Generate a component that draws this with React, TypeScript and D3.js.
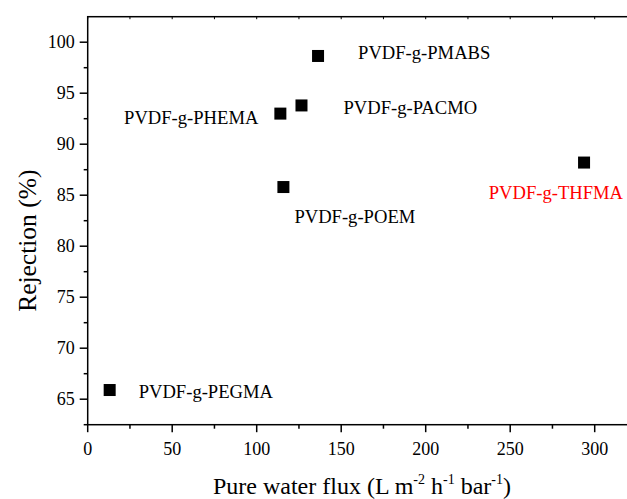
import React from 'react';
import * as d3 from 'd3';

// membranes and their measured values
const names = ['PVDF-g-PEGMA', 'PVDF-g-PHEMA', 'PVDF-g-PACMO', 'PVDF-g-PMABS', 'PVDF-g-POEM', 'PVDF-g-THFMA'];
const flux = [13, 114, 126.5, 136.3, 115.8, 293.7];
const rejection = [65.9, 93.0, 93.8, 98.65, 85.8, 88.2];
const highlight = [false, false, false, false, false, true];

const xTicks = [0, 50, 100, 150, 200, 250, 300];
const yTicks = [65, 70, 75, 80, 85, 90, 95, 100];

// label placement relative to the marker (px)
const labelOffsets: [number, number, string][] = [
	[29, 8, 'start'],
	[-22, 10, 'end'],
	[42, 8.5, 'start'],
	[40, 2.7, 'start'],
	[11, 36, 'start'],
	[39, 36, 'end'],
];

const W = 627, H = 499;
const FONT = "'Liberation Serif'";

export default class App extends React.Component {
	svg = React.createRef<SVGSVGElement>();

	componentDidMount() {
		this.draw();
	}

	render = () =>
		<div style={{ position: 'fixed', left: 0, top: 0 }}>
			<svg ref={this.svg} width={W} height={H} style={{ display: 'block', background: '#fff' }}></svg>
		</div>

	draw = () => {
		const svg = d3.select(this.svg.current);
		svg.selectAll('*').remove();

		const x = d3.scaleLinear().domain([0, 320]).range([87.7, 628.5]);
		const y = d3.scaleLinear().domain([62.5, 102.5]).range([424.7, 16.7]);
		const [x0, x1] = x.range();
		const [yb, yt] = y.range();

		const minorX = d3.range(25, 320, 50);
		const minorY = d3.range(62.5, 102.5, 5);

		const g = svg.append('g');
		const text = () => g.append('text').style('font-family', FONT);

		// frame
		g.append('rect')
			.attr('x', x0).attr('y', yt)
			.attr('width', x1 - x0).attr('height', yb - yt)
			.attr('fill', 'none').attr('stroke', '#000').attr('stroke-width', 1.5);

		// bottom ticks
		g.selectAll('.xt').data(xTicks).enter().append('line')
			.attr('x1', d => x(d)).attr('x2', d => x(d))
			.attr('y1', yb).attr('y2', yb + 7.5)
			.attr('stroke', '#000').attr('stroke-width', 1.5);
		g.selectAll('.xm').data(minorX).enter().append('line')
			.attr('x1', d => x(d)).attr('x2', d => x(d))
			.attr('y1', yb).attr('y2', yb + 4)
			.attr('stroke', '#000').attr('stroke-width', 1.5);
		// top ticks (inward, short)
		g.selectAll('.xtt').data([...xTicks, ...minorX]).enter().append('line')
			.attr('x1', d => x(d)).attr('x2', d => x(d))
			.attr('y1', yt).attr('y2', yt + 2.5)
			.attr('stroke', '#000').attr('stroke-width', 1);
		xTicks.forEach(d => {
			text().attr('x', x(d)).attr('y', yb + 30)
				.attr('text-anchor', 'middle').attr('font-size', 18)
				.text(d);
		});

		// left ticks
		g.selectAll('.yt').data(yTicks).enter().append('line')
			.attr('x1', x0 - 8).attr('x2', x0)
			.attr('y1', d => y(d)).attr('y2', d => y(d))
			.attr('stroke', '#000').attr('stroke-width', 1.5);
		g.selectAll('.ym').data(minorY).enter().append('line')
			.attr('x1', x0 - 4).attr('x2', x0)
			.attr('y1', d => y(d)).attr('y2', d => y(d))
			.attr('stroke', '#000').attr('stroke-width', 1.5);
		yTicks.forEach(d => {
			text().attr('x', x0 - 13).attr('y', y(d) + 6.2)
				.attr('text-anchor', 'end').attr('font-size', 18)
				.text(d);
		});

		// axis titles
		text()
			.attr('transform', `translate(36, ${(yt + yb) / 2 + 20}) rotate(-90)`)
			.attr('text-anchor', 'middle').attr('font-size', 25.5)
			.text('Rejection (%)');

		const xt = text()
			.attr('x', 362).attr('y', 494)
			.attr('text-anchor', 'middle').attr('font-size', 24);
		const parts: [string, boolean][] = [
			['Pure water flux (L m', false], ['-2', true], [' h', false], ['-1', true], [' bar', false], ['-1', true], [')', false],
		];
		parts.forEach(([t, sup], i) => {
			const prev = i > 0 ? parts[i - 1][1] : false;
			xt.append('tspan')
				.attr('font-size', sup ? 14 : 24)
				.attr('dy', sup ? -10 : (prev ? 10 : 0))
				.text(t);
		});

		// markers
		const s = 12;
		g.selectAll('.pt').data(names).enter().append('rect')
			.attr('x', (d, i) => x(flux[i]) - s / 2)
			.attr('y', (d, i) => y(rejection[i]) - s / 2)
			.attr('width', s).attr('height', s)
			.attr('fill', '#000');

		names.forEach((d, i) => {
			text()
				.attr('x', x(flux[i]) + labelOffsets[i][0])
				.attr('y', y(rejection[i]) + labelOffsets[i][1])
				.attr('text-anchor', labelOffsets[i][2])
				.attr('font-size', 18.6)
				.attr('fill', highlight[i] ? '#f00' : '#000')
				.text(d);
		});
	}
}
